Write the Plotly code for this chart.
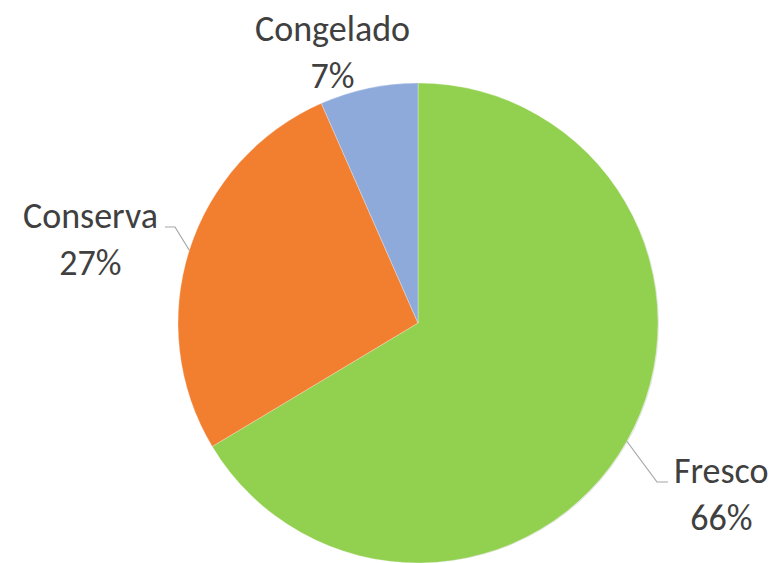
import math
import plotly.graph_objects as go

categories = ["Fresco", "Conserva", "Congelado"]
shares = [66.4, 27.0, 6.6]
colors = ["#92D050", "#F27E30", "#8EAADB"]

W, H = 774, 563
cx, cy, r = 418, 323, 240  # pie centre / radius in pixels


def px(x, y):
    return x / W, 1 - y / H


def dom(ox=0, oy=0):
    return dict(x=[(cx - r + ox) / W, (cx + r + ox) / W],
                y=[max(0, 1 - (cy + r + oy) / H), 1 - (cy - r + oy) / H])


fig = go.Figure()
# soft shadow under the pie
fig.add_trace(go.Pie(
    labels=categories, values=shares, sort=False, direction="clockwise",
    marker=dict(colors=["rgba(0,0,0,0.10)"] * 3, line=dict(width=0)),
    textinfo="none", hoverinfo="skip", showlegend=False, domain=dom(2, 2),
))
fig.add_trace(go.Pie(
    labels=categories, values=shares, sort=False, direction="clockwise",
    rotation=0, marker=dict(colors=colors, line=dict(color="rgba(255,255,255,0.6)", width=0.5)),
    textinfo="none", hoverinfo="label+percent", showlegend=False, domain=dom(),
))

font = dict(family="Carlito, Lato, sans-serif", size=36, color="#404040")
# label centres and leader elbows (pixels)
label_pos = {"Fresco": (721, 494), "Conserva": (90, 240), "Congelado": (332, 52)}
elbows = {"Fresco": [(657, 482), (668, 482)], "Conserva": [(175, 227), (165, 227)]}

total = sum(shares)
cum = 0
for name, v in zip(categories, shares):
    mid = (cum + v / 2) / total * 2 * math.pi
    cum += v
    lx, ly = label_pos[name]
    ax, ay = px(lx, ly)
    fig.add_annotation(x=ax, y=ay, xref="paper", yref="paper", showarrow=False,
                       text=f"{name}<br>{round(v / total * 100)}%", font=font,
                       xanchor="center", yanchor="middle", align="center")
    if name in elbows:
        pts = [(cx + r * math.sin(mid), cy - r * math.cos(mid))] + elbows[name]
        path = "M " + " L ".join(f"{px(x, y)[0]} {px(x, y)[1]}" for x, y in pts)
        fig.add_shape(type="path", path=path, xref="paper", yref="paper",
                      line=dict(color="#A6A6A6", width=1.2))

fig.update_layout(width=W, height=H, margin=dict(l=0, r=0, t=0, b=0),
                  paper_bgcolor="white", plot_bgcolor="white")
fig.write_html("out.html", config={"displayModeBar": False},
               post_script="document.body.style.margin='0';")
